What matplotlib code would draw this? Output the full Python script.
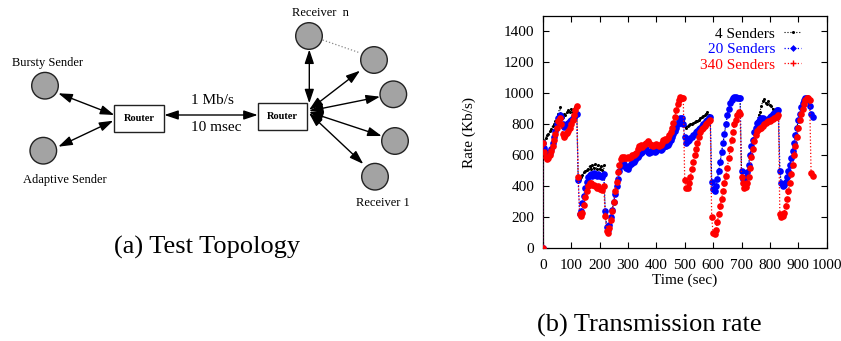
import numpy as np
import matplotlib
matplotlib.use("Agg")
import matplotlib.pyplot as plt
from matplotlib.patches import Circle, Rectangle, FancyArrowPatch

# ---------------- data ----------------
time_s = np.concatenate([[0], np.arange(0, 955, 5)])

senders4 = [0,
    680, 690, 710, 730, 740, 755, 770, 790, 800, 820, 840, 870, 910, 860, 850, 870, 860, 880, 890, 880,
    900, 880, 900, 910, 870, 440, 445, 460, 475, 490, 500, 505, 515, 530, 510, 540, 520, 545, 515, 540,
    510, 530, 505, 540, 240, 140, 120, 150, 200, 250, 300, 350, 400, 450, 500, 530, 550, 555, 545, 535,
    525, 540, 555, 560, 570, 580, 590, 600, 610, 625, 635, 645, 655, 650, 635, 625, 630, 645, 640, 635,
    640, 650, 655, 645, 650, 665, 670, 670, 680, 690, 710, 730, 750, 770, 790, 810, 830, 850, 850, 820,
    790, 780, 790, 795, 800, 805, 810, 815, 820, 825, 830, 840, 845, 855, 860, 870, 880, 860, 850, 430,
    380, 370, 400, 450, 500, 560, 620, 680, 740, 800, 860, 900, 940, 960, 970, 975, 975, 970, 970, 970,
    500, 450, 440, 460, 490, 540, 600, 660, 700, 750, 790, 820, 860, 880, 920, 950, 965, 940, 930, 950,
    925, 920, 900, 890, 890, 890, 890, 500, 420, 400, 410, 430, 460, 500, 540, 580, 630, 680, 730, 780,
    830, 870, 910, 940, 960, 970, 970, 960, 920, 870, 845]

senders20 = [0,
    680, 650, 620, 605, 600, 615, 640, 680, 720, 760, 800, 840, 860, 850, 800, 785, 790, 800, 810, 820,
    830, 840, 850, 860, 870, 440, 220, 240, 290, 340, 390, 430, 460, 475, 480, 470, 485, 475, 470, 480,
    465, 470, 460, 480, 240, 140, 120, 150, 200, 250, 300, 350, 400, 450, 500, 530, 550, 545, 530, 520,
    510, 530, 545, 550, 560, 570, 580, 590, 600, 615, 625, 635, 645, 640, 625, 615, 620, 635, 630, 625,
    630, 640, 645, 635, 640, 655, 660, 660, 670, 680, 700, 720, 740, 760, 780, 800, 820, 840, 840, 800,
    720, 680, 690, 700, 710, 720, 730, 740, 750, 760, 770, 780, 790, 800, 810, 820, 830, 840, 845, 430,
    380, 370, 400, 450, 500, 560, 620, 680, 740, 800, 860, 900, 940, 960, 970, 975, 975, 970, 970, 970,
    500, 450, 440, 460, 490, 540, 600, 660, 700, 750, 780, 810, 825, 835, 840, 840, 835, 830, 830, 835,
    845, 855, 865, 875, 880, 890, 890, 500, 420, 400, 410, 430, 460, 500, 540, 580, 630, 680, 730, 780,
    830, 870, 910, 940, 960, 970, 970, 960, 920, 870, 845]

senders340 = [0,
    680, 620, 590, 575, 580, 600, 630, 660, 700, 740, 780, 820, 840, 800, 740, 720, 730, 745, 760, 780,
    800, 830, 860, 890, 920, 460, 220, 210, 230, 280, 330, 370, 400, 420, 420, 410, 410, 400, 390, 400,
    385, 380, 375, 400, 210, 110, 100, 130, 180, 240, 300, 370, 430, 490, 540, 575, 590, 590, 580, 585,
    590, 580, 590, 600, 605, 610, 615, 640, 660, 665, 655, 670, 675, 680, 690, 680, 670, 665, 660, 670,
    675, 670, 660, 670, 680, 700, 705, 700, 710, 730, 750, 780, 810, 850, 890, 930, 960, 975, 970, 970,
    440, 390, 390, 420, 460, 510, 560, 600, 640, 680, 720, 750, 770, 780, 790, 800, 810, 820, 830, 200,
    100, 95, 120, 170, 220, 270, 320, 370, 420, 470, 520, 580, 640, 700, 750, 800, 830, 860, 880, 870,
    460, 420, 390, 395, 420, 460, 520, 590, 640, 690, 730, 760, 770, 775, 780, 790, 800, 810, 815, 820,
    825, 830, 835, 840, 845, 850, 860, 220, 205, 210, 230, 270, 320, 370, 420, 480, 540, 600, 660, 720,
    780, 830, 870, 900, 930, 955, 970, 970, 960, 485, 470]

series_labels = ["4 Senders", "20 Senders", "340 Senders"]
x_ticks = [0, 100, 200, 300, 400, 500, 600, 700, 800, 900, 1000]
y_ticks = [0, 200, 400, 600, 800, 1000, 1200, 1400]

# ---------------- figure ----------------
SERIF = ["Liberation Serif", "DejaVu Serif"]
plt.rcParams["font.family"] = SERIF
W, H = 841, 341
fig = plt.figure(figsize=(W / 100, H / 100), dpi=100)

# ---- (a) topology diagram, in pixel coordinates ----
ax0 = fig.add_axes([0, 0, 460 / W, 1])
ax0.set_xlim(0, 460)
ax0.set_ylim(H, 0)
ax0.axis("off")

R = 13.3
gray = "#a3a3a3"
nodes = {
    "bursty": (45, 85.7), "adaptive": (43.3, 150.7),
    "rn": (309, 36), "r2": (374, 60), "r3": (393.3, 94.3),
    "r4": (395, 141), "r1": (375, 176.7),
}
for (cx, cy) in nodes.values():
    ax0.add_patch(Circle((cx, cy), R, facecolor=gray, edgecolor="#222222", lw=1.0, zorder=3))

for (x0, y0, x1, y1) in [(114.3, 105, 164.3, 132), (257.7, 103.3, 307.3, 129.7)]:
    ax0.add_patch(Rectangle((x0, y0), x1 - x0, y1 - y0, facecolor="white",
                            edgecolor="#222222", lw=1.0, zorder=3))
    ax0.text((x0 + x1) / 2, (y0 + y1) / 2, "Router", ha="center", va="center",
             fontsize=7.5, fontweight="bold", zorder=4)

def arrow(p, q):
    ax0.add_patch(FancyArrowPatch(p, q, arrowstyle="<|-|>,head_length=0.6,head_width=0.2",
                                  mutation_scale=14, lw=1.0, color="black",
                                  shrinkA=0, shrinkB=0, zorder=2))

arrow((58.3, 93.3), (114.3, 115))
arrow((58.3, 146.7), (113.3, 120.7))
arrow((164.3, 115), (257.7, 115))
arrow((309.3, 49.5), (309.3, 103.3))
arrow((309, 110), (360, 70.7))
arrow((309, 111), (380, 96.7))
arrow((309, 112), (381.7, 136))
arrow((309, 113), (363.3, 164))
ax0.plot([322.7, 358.3], [40, 52.3], ls=":", color="#888888", lw=0.9, zorder=1)

ax0.text(47.7, 63.3, "Bursty Sender", ha="center", va="center", fontsize=9)
ax0.text(65, 180, "Adaptive Sender", ha="center", va="center", fontsize=9)
ax0.text(320, 13.3, "Receiver  n", ha="center", va="center", fontsize=9)
ax0.text(383.3, 202.7, "Receiver 1", ha="center", va="center", fontsize=9)
ax0.text(212.7, 100, "1 Mb/s", ha="center", va="center", fontsize=11)
ax0.text(216.7, 127.7, "10 msec", ha="center", va="center", fontsize=11)
ax0.text(206.7, 247, "(a) Test Topology", ha="center", va="center", fontsize=19)

# ---- (b) transmission rate ----
left, right, top, bottom = 542.7, 826.7, 16, 248.3
ax = fig.add_axes([left / W, 1 - bottom / H, (right - left) / W, (bottom - top) / H])

l4, = ax.plot(time_s, senders4, ls=":", color="black", lw=0.8, marker="o", ms=1.2, zorder=2,
              label=series_labels[0])
l20, = ax.plot(time_s, senders20, ls=":", color="#0000ff", lw=0.9, marker="o", ms=4.8,
               markeredgewidth=0, zorder=3, label=series_labels[1])
l340, = ax.plot(time_s, senders340, ls=":", color="#ff0000", lw=0.9, marker="o", ms=4.8,
                markeredgewidth=0, zorder=4, label=series_labels[2])

ax.set_xlim(0, 1000)
ax.set_ylim(0, 1500)
ax.set_xticks(x_ticks)
ax.set_yticks(y_ticks)
ax.tick_params(direction="in", top=True, right=True, length=4, width=0.8,
               labelsize=11, pad=6)
ax.tick_params(axis="x", pad=8)
for s in ax.spines.values():
    s.set_linewidth(0.9)
ax.set_xlabel("Time (sec)", fontsize=11, labelpad=1)
ax.set_ylabel("Rate (Kb/s)", fontsize=11, labelpad=20)

leg = ax.legend(handles=[l4, l20, l340], loc="upper right",
                bbox_to_anchor=((801 - left) / (right - left), 1 - (27 - top) / (bottom - top)),
                frameon=False, markerfirst=False, numpoints=1, handlelength=1.1,
                handletextpad=0.6, labelspacing=0.12, borderpad=0, borderaxespad=0,
                fontsize=11, labelcolor="linecolor")
hs = leg.legend_handles
hs[0].set_markersize(1.2)
hs[1].set_marker("D")
hs[1].set_markersize(3.5)
hs[2].set_marker("+")
hs[2].set_markersize(4)
hs[2].set_markeredgewidth(1)

fig.text(649 / W, 1 - 325 / H, "(b) Transmission rate", ha="center", va="center", fontsize=19)

fig.savefig("out.png", dpi=100)
